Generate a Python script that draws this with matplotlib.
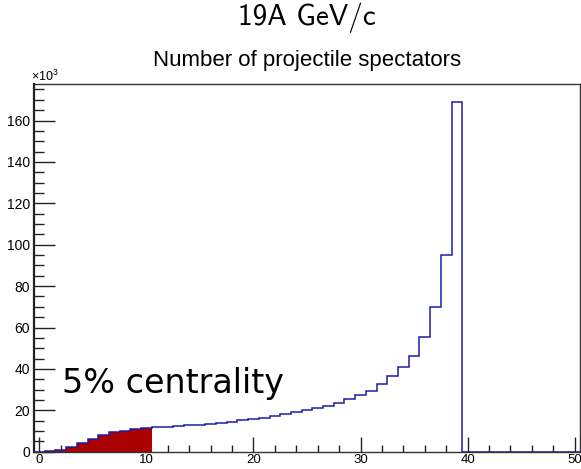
import numpy as np
import matplotlib
matplotlib.use("Agg")
import matplotlib.pyplot as plt
from matplotlib.ticker import MultipleLocator

plt.rcParams['font.family'] = ['Liberation Sans', 'DejaVu Sans']
plt.rcParams['mathtext.fontset'] = 'custom'
plt.rcParams['mathtext.rm'] = 'Liberation Sans'
plt.rcParams['mathtext.it'] = 'Liberation Sans:italic'

# Histogram: number of projectile spectators, 51 unit-width bins centred on 0..50
bin_edges = np.arange(-0.5, 51.0, 1.0)
counts_k = [0.05, 0.3, 0.9, 2.2, 4.2, 6.1, 7.9, 9.4, 10.2, 10.8,
            11.3, 11.7, 12.0, 12.3, 12.7, 13.1, 13.5, 14.0, 14.5, 15.1,
            15.7, 16.4, 17.2, 18.1, 19.0, 20.0, 21.1, 22.2, 23.7, 25.6,
            27.4, 29.5, 32.9, 36.5, 40.8, 46.4, 55.2, 69.7, 95.2, 169.0,
            0, 0, 0, 0, 0, 0, 0, 0, 0, 0, 0]
n_central_bins = 11   # bins 0..10 make up the 5% most central events

title_main = '19A GeV/c'
title_sub = 'Number of projectile spectators'
note_text = '5% centrality'

fig = plt.figure(figsize=(5.81, 4.69), dpi=100)
ax = fig.add_axes([34/581, 1 - 451.7/469, (580 - 34)/581, (451.7 - 84.3)/469])

counts = np.array(counts_k)
ax.stairs(counts[:n_central_bins], bin_edges[:n_central_bins + 1], fill=True,
          color='#aa0000', linewidth=0, zorder=2)
ax.stairs(counts, bin_edges, color='#1c1ca8', linewidth=1.1, baseline=0, zorder=3)

ax.set_xlim(-0.5, 50.5)
ax.set_ylim(0, 177.5)
ax.xaxis.set_major_locator(MultipleLocator(10))
ax.xaxis.set_minor_locator(MultipleLocator(2))
ax.yaxis.set_major_locator(MultipleLocator(20))
ax.yaxis.set_minor_locator(MultipleLocator(5))
ax.tick_params(axis='both', which='both', direction='in', top=False, right=False,
               color='#222222', labelcolor='black')
ax.tick_params(axis='y', which='major', length=15, width=1.0, pad=3, labelsize=10)
ax.tick_params(axis='y', which='minor', length=7.5, width=1.0)
ax.tick_params(axis='x', which='major', length=11, width=1.0, pad=2, labelsize=9.5)
ax.tick_params(axis='x', which='minor', length=5, width=1.0)
for side in ['top', 'right', 'bottom']:
    ax.spines[side].set_linewidth(1.0)
    ax.spines[side].set_color('#333333')
ax.spines['left'].set_linewidth(1.6)
ax.spines['left'].set_color('#222222')

# multiplier for the y axis
fig.text(31/581, 1 - 84/469, r'$\times10^{3}$', fontsize=9, ha='left', va='bottom')

ax.text(2.1, 28.4, note_text, fontsize=24, family='DejaVu Sans',
        ha='left', va='baseline', zorder=4)

fig.text(307/581, 1 - 18/469, title_main, fontsize=21, family='cmss10',
         ha='center', va='center')
fig.text(307/581, 1 - 66/469, title_sub, fontsize=16, ha='center', va='baseline')

fig.savefig('out.png', dpi=100)
